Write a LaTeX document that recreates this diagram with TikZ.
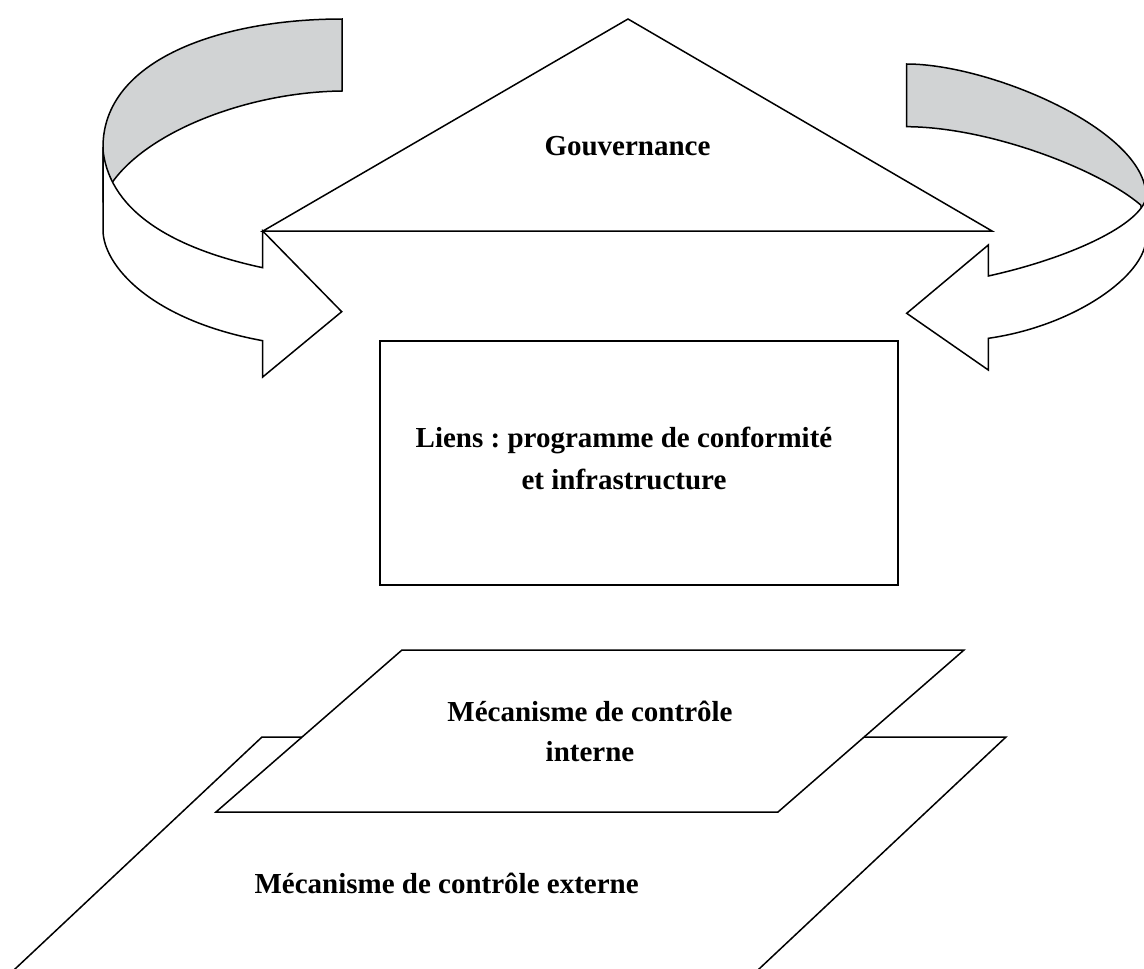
\documentclass[tikz,border=0pt]{standalone}
\usepackage{fontspec}
\setmainfont{Liberation Serif}
\usetikzlibrary{positioning}
\definecolor{bandgray}{RGB}{209,211,212}
\frenchspacing

\begin{document}
\begin{tikzpicture}[x=1pt,y=-1pt,line width=1.5pt,
	txt/.style={font=\fontsize{29}{40}\selectfont\bfseries,align=center,inner sep=0pt},
	face/.style={draw,fill=white},
	band/.style={draw,fill=bandgray}]
	\useasboundingbox (0,0) rectangle (1144,969);
	\clip (0,0) rectangle (1144,969);
	\draw[band] (342,19) .. controls (220,19) and (103,60) .. (103,147) -- (103,200) -- (112.7,181.7) .. controls (150,130) and (250,92) .. (342,91) -- cycle;
	\draw[face] (103,147) -- (103,230) .. controls (103,265) and (150,320) .. (262.7,340.7) -- (262.7,377) -- (341.7,311.7) -- (262.7,231) -- (262.7,267.7) .. controls (180,250) and (110,215) .. (103,150) -- cycle;
	\draw[band] (906.7,64) .. controls (990,64) and (1146,130) .. (1146,196) -- (1146,230) -- (1140.7,205) .. controls (1100,170) and (990,127) .. (906.7,126.7) -- cycle;
	\draw[face] (1146,194) -- (1146,238) .. controls (1146,275) and (1075,326) .. (988.3,338.3) -- (988.3,370) -- (906.7,313.3) -- (988.3,245) -- (988.3,276) .. controls (1070,258) and (1140,225) .. (1146,198) -- cycle;
	\coordinate (top) at (628,19);
	\coordinate (left) at (263,231);
	\coordinate (right) at (992,231);
	\draw[face] (top) -- (right) -- (left) -- cycle;
	\node[txt,anchor=base] (gov) at (627.5,155) {Gouvernance};
	\draw[face] (380,341) rectangle (898,585);
	\node[txt,font=\fontsize{29}{42}\selectfont\bfseries] (liens) at (624,458.5) {Liens : programme de conformité\\et infrastructure};
	\draw[face] (262,737) -- (1006,737) -- (726,1000) -- (-18,1000) -- cycle;
	\draw[face] (402,650) -- (964,650) -- (778,812) -- (216,812) -- cycle;
	\node[txt] (interne) at (590,731) {Mécanisme de contrôle\\interne};
	\node[txt,anchor=base] (externe) at (446.6,893) {Mécanisme de contrôle externe};
\end{tikzpicture}
\end{document}
